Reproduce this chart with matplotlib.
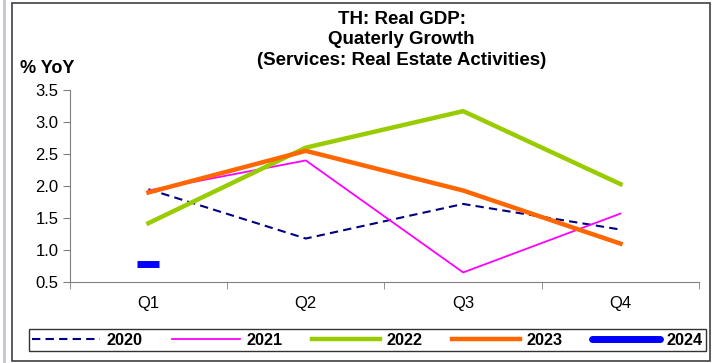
import matplotlib.pyplot as plt
import matplotlib.patches as mpatches
import numpy as np

plt.rcParams['font.family'] = ['Liberation Sans', 'DejaVu Sans']

# Datos
quarters = ["Q1", "Q2", "Q3", "Q4"]
y2020 = [1.95, 1.18, 1.72, 1.32]
y2021 = [1.93, 2.40, 0.65, 1.57]
y2022 = [1.42, 2.60, 3.17, 2.03]
y2023 = [1.90, 2.55, 1.93, 1.10]
y2024 = [0.78]

fig = plt.figure(figsize=(7.12, 3.63), dpi=100)
ax = fig.add_axes([0.098, 0.223, 0.884, 0.529])

x = np.arange(len(quarters))
ax.plot(x, y2020, color='#000080', lw=1.5, ls=(0, (4, 2.5)), label='2020')
ax.plot(x, y2021, color='#FF00FF', lw=1.3, label='2021')
ax.plot(x, y2022, color='#99CC00', lw=3.2, label='2022')
ax.plot(x, y2023, color='#FF6600', lw=3.2, label='2023')
ax.plot(x[:len(y2024)], y2024, color='#0000FF', marker='_', ms=16, mew=5, ls='none')
ax.plot([], [], color='#0000FF', lw=5, solid_capstyle='round', label='2024')

ax.set_xlim(-0.5, 3.5)
ax.set_ylim(0.5, 3.5)
yt = np.arange(0.5, 3.51, 0.5)
ax.set_yticks(yt)
ax.set_yticklabels([f"{v:.1f}" for v in yt], fontsize=12)
ax.set_xticks(x)
ax.set_xticklabels(quarters, fontsize=12)
ax.set_xticks(np.arange(-0.5, 3.6, 1), minor=True)
ax.tick_params(axis='x', which='major', length=0, pad=10)
ax.tick_params(axis='x', which='minor', length=5, color='#808080')
ax.tick_params(axis='y', length=5, color='#808080', pad=3)
ax.spines['top'].set_visible(False)
ax.spines['right'].set_visible(False)
ax.spines['left'].set_color('#808080')
ax.spines['bottom'].set_color('#808080')

fig.text(0.564, 0.97, "TH: Real GDP:\nQuaterly Growth\n(Services: Real Estate Activities)",
         ha='center', va='top', fontsize=13.5, fontweight='bold', linespacing=1.27)
fig.text(0.028, 0.81, "% YoY", fontsize=13, fontweight='bold', va='center')

leg = fig.legend(loc='center', bbox_to_anchor=(0.516, 0.063), ncol=5, frameon=True,
                 fancybox=False, edgecolor='black', prop={'weight': 'bold', 'size': 11.7},
                 handlelength=4.2, columnspacing=1.8, borderpad=0.2, handletextpad=0.4)
leg.get_frame().set_linewidth(1.0)

# Marco exterior
fig.patches.append(mpatches.Rectangle((0.017, 0.006), 0.98, 0.985, transform=fig.transFigure,
                                      fill=False, edgecolor='#404040', lw=1.2))
fig.patches.append(mpatches.Rectangle((0.004, 0.0), 0.004, 1.0, transform=fig.transFigure,
                                      fill=True, color='#C8C8D0', lw=0))

plt.savefig("out.png", dpi=100)
